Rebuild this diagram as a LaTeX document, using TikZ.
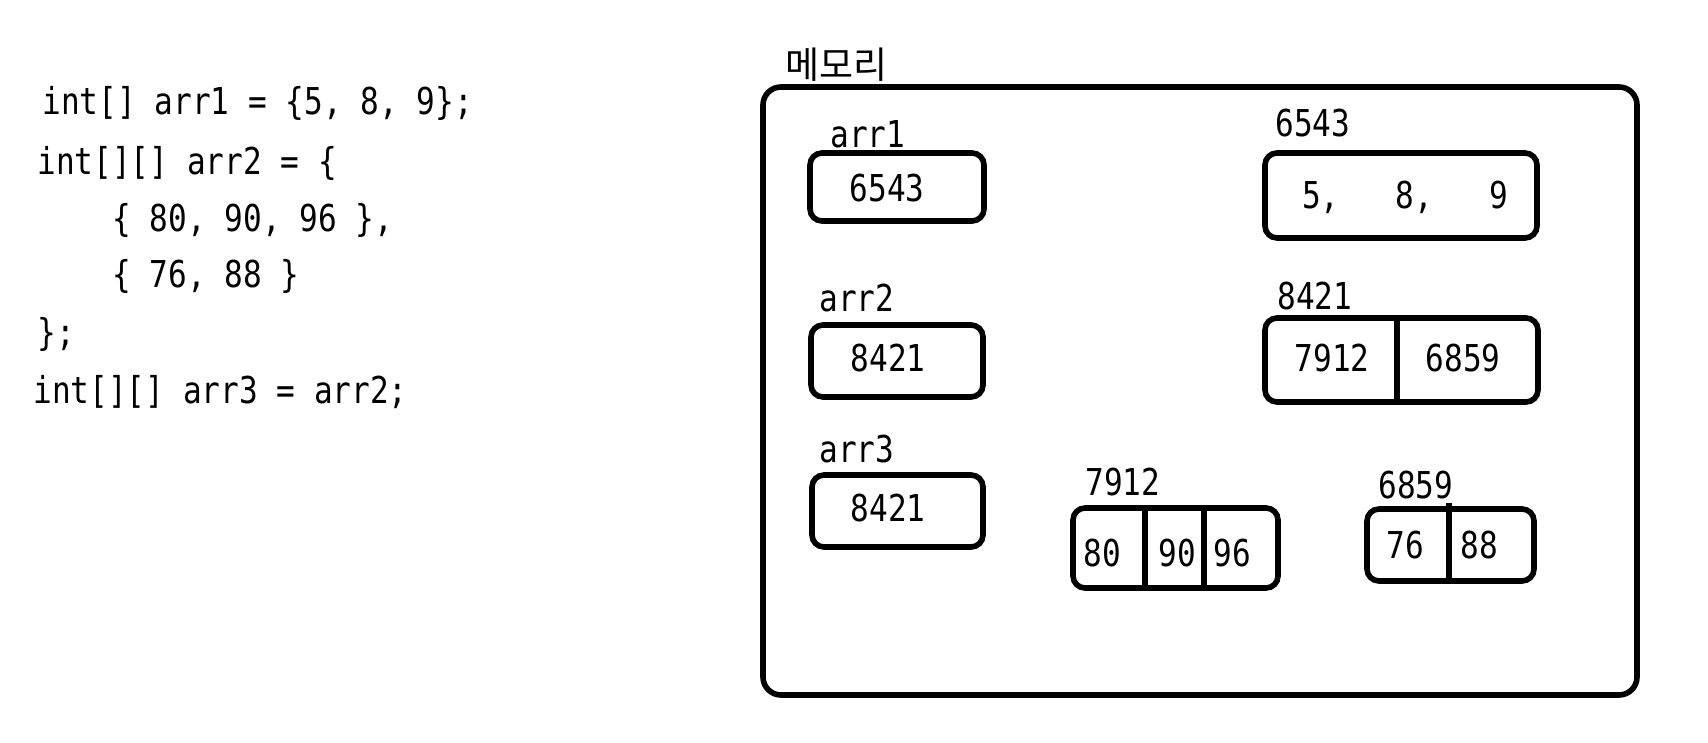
\documentclass[tikz,border=0pt]{standalone}
\usepackage{fontspec}
\setmainfont[FakeStretch=0.84]{DejaVu Sans Mono}
\newfontfamily\kofont{Noto Sans CJK KR}
\usepackage{tikz}
\usetikzlibrary{positioning}
\tikzset{
    codeline/.style={anchor=base west, inner sep=0pt},
    varname/.style={anchor=base west, inner sep=0pt},
    cell/.style={draw, line width=2.8pt, rounded corners=6pt, inner sep=0pt},
    value/.style={inner sep=0pt},
    divider/.style={line width=2.8pt}
}

\begin{document}
\begin{tikzpicture}[x=0.5pt, y=-0.5pt, font=\fontsize{18.5}{22}\selectfont]
        \useasboundingbox (0,0) rectangle (1708,743);

        % Code
        \node (line1) [codeline] at (42,115) {int[] arr1 = \{5, 8, 9\};};
        \node (line2) [codeline] at (37,175) {int[][] arr2 = \{};
        \node (line3) [codeline] at (112,232) {\{ 80, 90, 96 \},};
        \node (line4) [codeline] at (112,288) {\{ 76, 88 \}};
        \node (line5) [codeline] at (37,345) {\};};
        \node (line6) [codeline] at (33,403) {int[][] arr3 = arr2;};

        % Memory
        \node (mem) [cell, rounded corners=9pt, minimum width=437pt, minimum height=304pt] at (1200,391) {};
        \node (memtitle) [anchor=west, inner sep=0pt] at (785,65) {\kofont 메모리};

        % Variables
        \node (arr1box) [cell, minimum width=87pt, minimum height=34pt] at (897,187) {};
        \node (arr2box) [cell, minimum width=86pt, minimum height=36pt] at (897,361) {};
        \node (arr3box) [cell, minimum width=85.5pt, minimum height=36pt] at (897.5,511) {};
        \node (arr1name) [varname] at (830,148) {arr1};
        \node (arr2name) [varname] at (819,312) {arr2};
        \node (arr3name) [varname] at (819,462) {arr3};
        \node (arr1val) [value] at (887,188) {6543};
        \node (arr2val) [value] at (888,358) {8421};
        \node (arr3val) [value] at (888,508) {8421};

        % Heap
        \node (heap6543) [cell, minimum width=136pt, minimum height=42.5pt] at (1401,195.5) {};
        \node (heap8421) [cell, minimum width=136.5pt, minimum height=42pt] at (1401.5,360) {};
        \node (heap7912) [cell, minimum width=102.5pt, minimum height=40pt] at (1175.5,548) {};
        \node (heap6859) [cell, minimum width=83.5pt, minimum height=36pt] at (1450.5,545) {};
        \node (addr6543) [varname] at (1275,137) {6543};
        \node (addr8421) [varname] at (1277,310) {8421};
        \node (addr7912) [varname] at (1085,495) {7912};
        \node (addr6859) [varname] at (1378,498) {6859};

        \node (vals6543) [value] at (1405,197) {5,\ \ \ 8,\ \ \ 9};
        \node (v7912) [value] at (1332,358) {7912};
        \node (v6859) [value] at (1463,358) {6859};
        \node (v80) [value] at (1102,553) {80};
        \node (v90) [value] at (1177,553) {90};
        \node (v96) [value] at (1232,553) {96};
        \node (v76) [value] at (1405,545) {76};
        \node (v88) [value] at (1479,545) {88};

        % Dividers
        \coordinate (d8421) at (1397,0);
        \coordinate (d80) at (1145,0);
        \coordinate (d90) at (1204,0);
        \coordinate (d76) at (1449,0);
        \draw[divider] (heap8421.north -| d8421) -- (heap8421.south -| d8421);
        \draw[divider] (heap7912.north -| d80) -- (heap7912.south -| d80);
        \draw[divider] (heap7912.north -| d90) -- (heap7912.south -| d90);
        \draw[divider] ([yshift=1.5pt]heap6859.north -| d76) -- (heap6859.south -| d76);

    \end{tikzpicture}
\end{document}
